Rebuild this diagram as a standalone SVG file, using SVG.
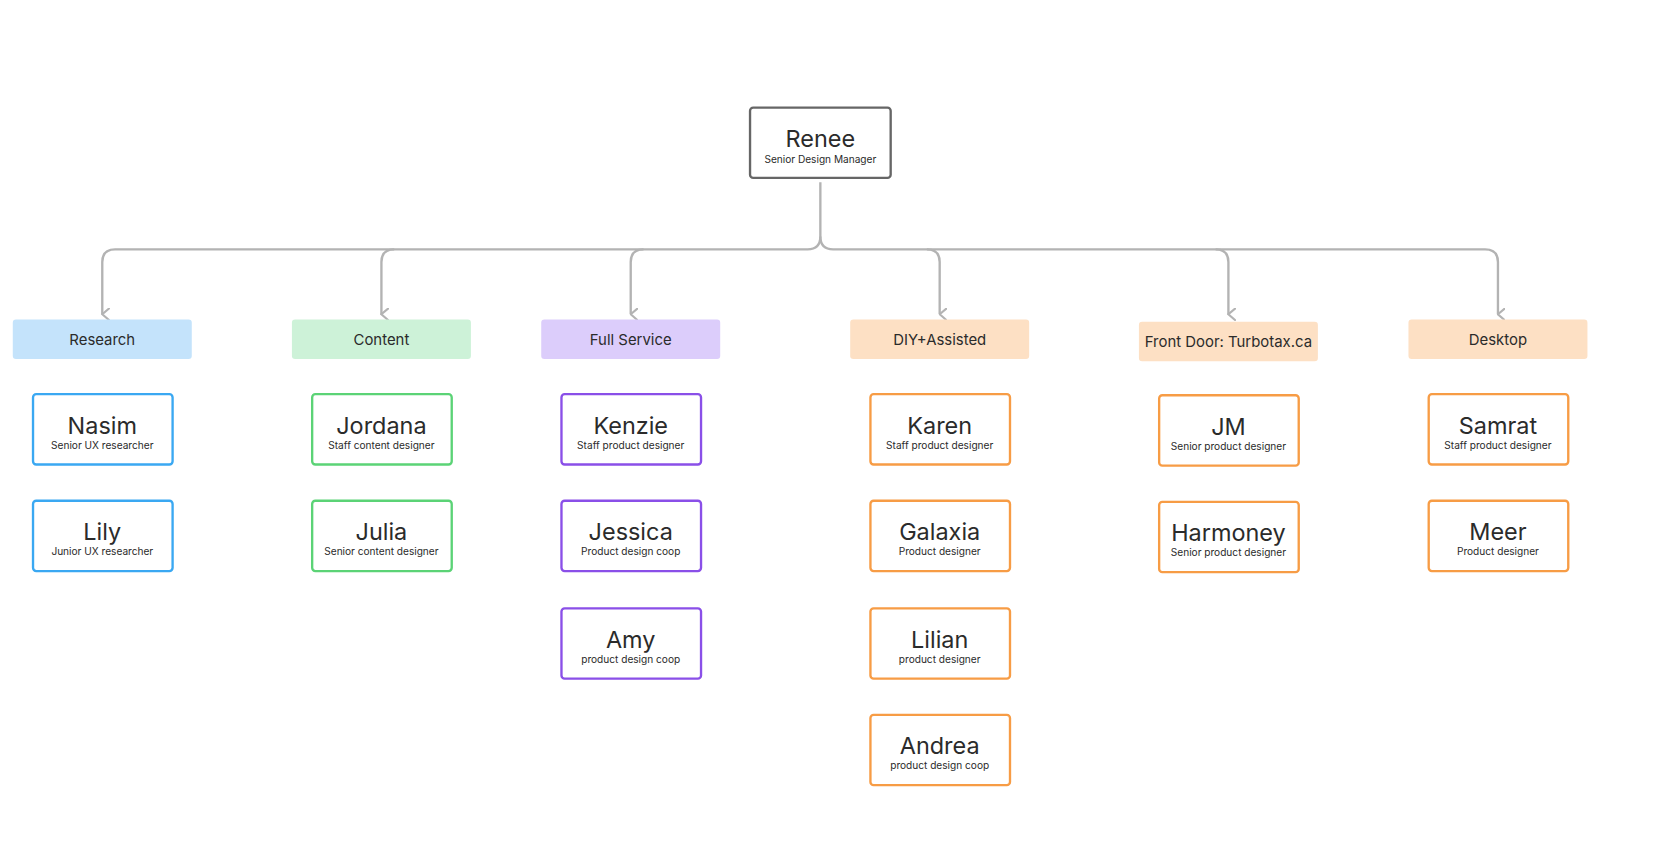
<svg xmlns="http://www.w3.org/2000/svg" width="1662" height="858" viewBox="0 0 1662 858">
<style>
text{font-family:Inter,"Liberation Sans",sans-serif;fill:#2b2b2b;text-anchor:middle}
.n{font-size:22px}.s{font-size:9.5px}.c{font-size:14px}
.p{fill:#fff;stroke-width:2.2}
.b{stroke:#3aa8f2}.g{stroke:#5bd376}.v{stroke:#8a4fe8}.o{stroke:#f79c45}
.cb{fill:#c4e3fb}.cg{fill:#cdf2d8}.cv{fill:#dccdfb}.co{fill:#fde0c4}
.l{fill:none;stroke:#b3b3b3;stroke-width:2.2}
</style>
<defs><marker id="a" viewBox="0 0 12 8" refX="6" refY="7" markerWidth="12" markerHeight="8" markerUnits="userSpaceOnUse" orient="auto-start-reverse"><path d="M0,0 L6,7 L12,0" fill="none" stroke="#b3b3b3" stroke-width="2"/></marker></defs>
<rect width="1662" height="858" fill="#fff"/>
<g transform="scale(1.0654)">
<g id="connectors" class="l">
<path d="M770,171 V222 Q770,234 758,234 H108 Q96,234 96,246 V295" marker-end="url(#a)"/>
<path d="M370,234 Q358,234 358,246 V295" marker-end="url(#a)"/>
<path d="M604,234 Q592,234 592,246 V295" marker-end="url(#a)"/>
<path d="M770,222 Q770,234 782,234 H1394 Q1406,234 1406,246 V295" marker-end="url(#a)"/>
<path d="M870,234 Q882,234 882,246 V295" marker-end="url(#a)"/>
<path d="M1141,234 Q1153,234 1153,246 V295" marker-end="url(#a)"/>
</g>
<g id="renee"><rect x="704" y="101" width="132" height="66" rx="3" class="p" stroke="#666"/><text x="770" y="138" class="n">Renee</text><text x="770" y="153" class="s">Senior Design Manager</text></g>
<g id="cat-research"><rect x="12" y="300" width="168" height="37" rx="3" class="cb"/><text x="96" y="324" class="c">Research</text></g>
<g id="cat-content"><rect x="274" y="300" width="168" height="37" rx="3" class="cg"/><text x="358" y="324" class="c">Content</text></g>
<g id="cat-full"><rect x="508" y="300" width="168" height="37" rx="3" class="cv"/><text x="592" y="324" class="c">Full Service</text></g>
<g id="cat-diy"><rect x="798" y="300" width="168" height="37" rx="3" class="co"/><text x="882" y="324" class="c">DIY+Assisted</text></g>
<g id="cat-front"><rect x="1069" y="302" width="168" height="37" rx="3" class="co"/><text x="1153" y="326" class="c">Front Door: Turbotax.ca</text></g>
<g id="cat-desktop"><rect x="1322" y="300" width="168" height="37" rx="3" class="co"/><text x="1406" y="324" class="c">Desktop</text></g>

<g id="nasim"><rect x="31" y="370" width="131" height="66" rx="3" class="p b"/><text x="96" y="407" class="n">Nasim</text><text x="96" y="421" class="s">Senior UX researcher</text></g>
<g id="lily"><rect x="31" y="470" width="131" height="66" rx="3" class="p b"/><text x="96" y="507" class="n">Lily</text><text x="96" y="521" class="s">Junior UX researcher</text></g>
<g id="jordana"><rect x="293" y="370" width="131" height="66" rx="3" class="p g"/><text x="358" y="407" class="n">Jordana</text><text x="358" y="421" class="s">Staff content designer</text></g>
<g id="julia"><rect x="293" y="470" width="131" height="66" rx="3" class="p g"/><text x="358" y="507" class="n">Julia</text><text x="358" y="521" class="s">Senior content designer</text></g>
<g id="kenzie"><rect x="527" y="370" width="131" height="66" rx="3" class="p v"/><text x="592" y="407" class="n">Kenzie</text><text x="592" y="421" class="s">Staff product designer</text></g>
<g id="jessica"><rect x="527" y="470" width="131" height="66" rx="3" class="p v"/><text x="592" y="507" class="n">Jessica</text><text x="592" y="521" class="s">Product design coop</text></g>
<g id="amy"><rect x="527" y="571" width="131" height="66" rx="3" class="p v"/><text x="592" y="608" class="n">Amy</text><text x="592" y="622" class="s">product design coop</text></g>
<g id="karen"><rect x="817" y="370" width="131" height="66" rx="3" class="p o"/><text x="882" y="407" class="n">Karen</text><text x="882" y="421" class="s">Staff product designer</text></g>
<g id="galaxia"><rect x="817" y="470" width="131" height="66" rx="3" class="p o"/><text x="882" y="507" class="n">Galaxia</text><text x="882" y="521" class="s">Product designer</text></g>
<g id="lilian"><rect x="817" y="571" width="131" height="66" rx="3" class="p o"/><text x="882" y="608" class="n">Lilian</text><text x="882" y="622" class="s">product designer</text></g>
<g id="andrea"><rect x="817" y="671" width="131" height="66" rx="3" class="p o"/><text x="882" y="708" class="n">Andrea</text><text x="882" y="722" class="s">product design coop</text></g>
<g id="jm"><rect x="1088" y="371" width="131" height="66" rx="3" class="p o"/><text x="1153" y="408" class="n">JM</text><text x="1153" y="422" class="s">Senior product designer</text></g>
<g id="harmoney"><rect x="1088" y="471" width="131" height="66" rx="3" class="p o"/><text x="1153" y="508" class="n">Harmoney</text><text x="1153" y="522" class="s">Senior product designer</text></g>
<g id="samrat"><rect x="1341" y="370" width="131" height="66" rx="3" class="p o"/><text x="1406" y="407" class="n">Samrat</text><text x="1406" y="421" class="s">Staff product designer</text></g>
<g id="meer"><rect x="1341" y="470" width="131" height="66" rx="3" class="p o"/><text x="1406" y="507" class="n">Meer</text><text x="1406" y="521" class="s">Product designer</text></g>
</g>
</svg>
